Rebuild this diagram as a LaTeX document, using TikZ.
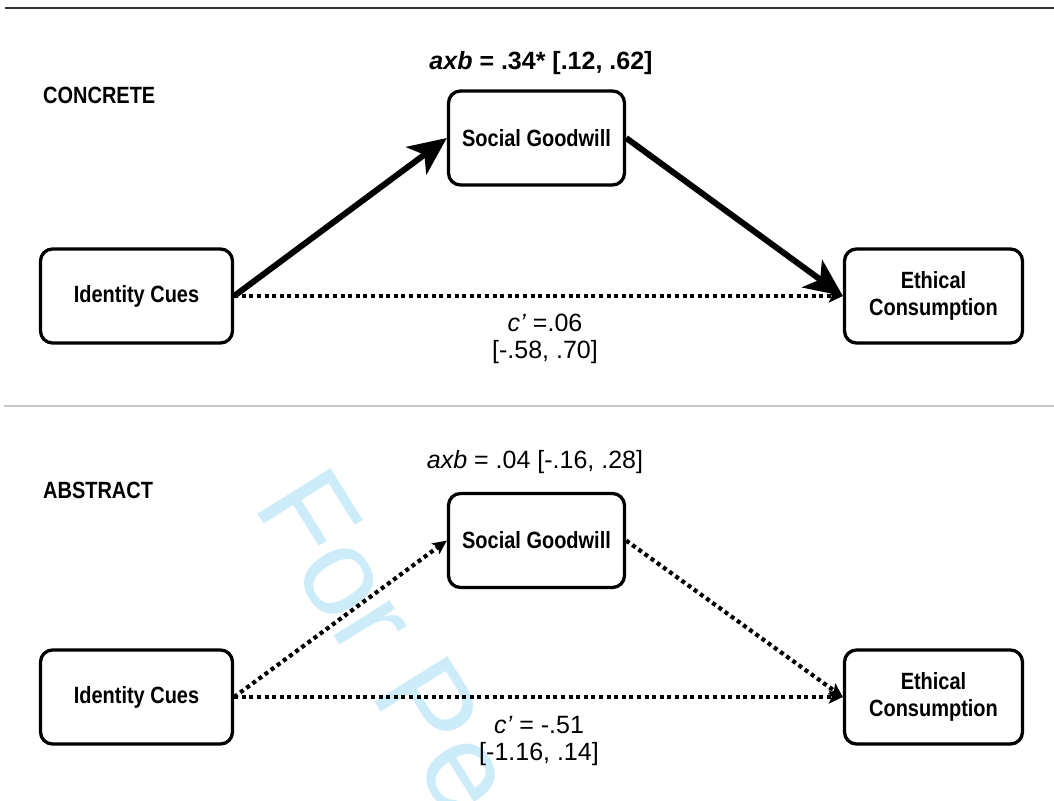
\documentclass[tikz,border=0pt]{standalone}
\usepackage{fontspec}
\setmainfont{Liberation Sans}
\newfontfamily\narrowsf{Liberation Sans}[FakeStretch=0.85]
\usetikzlibrary{arrows.meta, positioning}
\definecolor{wmblue}{RGB}{205,236,250}
\definecolor{rulegray}{RGB}{200,200,200}

\begin{document}
\begin{tikzpicture}[x=1pt, y=-1pt,
    box/.style={
        rectangle, rounded corners=12pt,
        draw=black, line width=3.3pt, fill=white,
        minimum height=94pt, align=center,
        font=\narrowsf\bfseries\fontsize{23.5}{27}\selectfont},
    panel/.style={anchor=west, inner sep=0pt,
        font=\narrowsf\bfseries\fontsize{23.5}{27}\selectfont},
    est/.style={align=center, font=\fontsize{25}{27}\selectfont},
    strong/.style={-{Stealth[length=38pt, width=34pt, inset=10pt]}, line width=6pt},
    weak/.style={-{Stealth[length=14pt, width=13pt, inset=3pt]}, line width=4.2pt,
        dash pattern=on 4pt off 3.6pt},
    wm/.style={inner sep=0pt, text=wmblue, font=\fontsize{125}{125}\selectfont}]
  \useasboundingbox (0,0) rectangle (1054,800);
  % Marca de agua
  \begin{scope}
    \clip (0,0) rectangle (1054,800);
    \node[wm, anchor=base west, rotate=-58] (wmark) at (252,505) {For Peer Review};
  \end{scope}
  % Lineas de separacion
  \draw[line width=2.5pt, black!80] (5,8) -- (1054,8);
  \draw[line width=2pt, rulegray] (4,405.5) -- (1054,405.5);
  % Panel concreto
  \node[panel] (conc) at (43,95) {CONCRETE};
  \node[box, minimum width=176pt] (sg1) at (536.5,138) {Social Goodwill};
  \node[box, minimum width=192pt] (ic1) at (136.5,296) {Identity Cues};
  \node[box, minimum width=178pt] (ec1) at (933.5,296) {Ethical\\ Consumption};
  \node[est] (ab1) at (541,63) {\textbf{\textit{axb} = .34* [.12, .62]}};
  \node[est] (cp1) at (545,339) {\textit{c’} =.06\\ {[}-.58, .70{]}};
  \draw[strong] (ic1.east) -- (sg1.west);
  \draw[strong] (sg1.east) -- (ec1.west);
  \draw[weak] (ic1.east) -- (ec1.west);
  % Panel abstracto
  \node[panel] (abst) at (43,490) {ABSTRACT};
  \node[box, minimum width=176pt] (sg2) at (536.5,540.5) {Social Goodwill};
  \node[box, minimum width=192pt] (ic2) at (136.5,697) {Identity Cues};
  \node[box, minimum width=178pt] (ec2) at (933.5,697) {Ethical\\ Consumption};
  \node[est] (ab2) at (535,462) {\textit{axb} = .04 [-.16, .28]};
  \node[est] (cp2) at (539,741) {\textit{c’} = -.51\\ {[}-1.16, .14{]}};
  \draw[weak] (ic2.east) -- (sg2.west);
  \draw[weak] (sg2.east) -- (ec2.west);
  \draw[weak] (ic2.east) -- (ec2.west);
\end{tikzpicture}
\end{document}
